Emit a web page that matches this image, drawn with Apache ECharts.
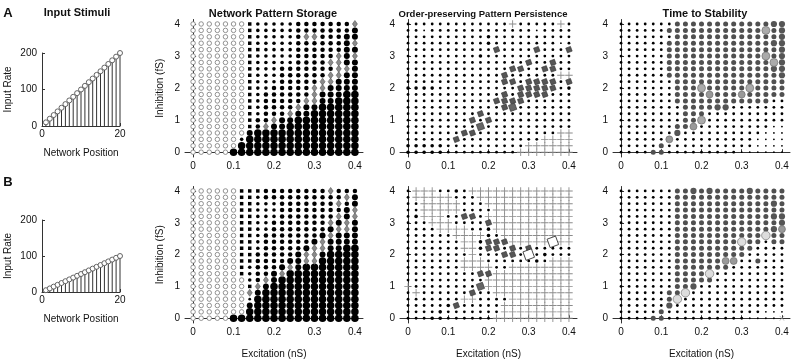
<!DOCTYPE html>
<html>
<head>
<meta charset="utf-8">
<script src="https://cdn.jsdelivr.net/npm/echarts@6/dist/echarts.min.js"></script>
<style>
html, body { margin: 0; padding: 0; background: #fff; }
#main { width: 794px; height: 360px; }
</style>
</head>
<body>
<div id="main"></div>
<script>
// grid values
var excitation = [0, 0.02, 0.04, 0.06, 0.08, 0.1, 0.12, 0.14, 0.16, 0.18, 0.2, 0.22, 0.24, 0.26, 0.28, 0.3, 0.32, 0.34, 0.36, 0.38, 0.4];
var inhibition = [4, 3.8, 3.6, 3.4, 3.2, 3, 2.8, 2.6, 2.4, 2.2, 2, 1.8, 1.6, 1.4, 1.2, 1, 0.8, 0.6, 0.4, 0.2, 0];

// input stimuli
var position = [1, 2, 3, 4, 5, 6, 7, 8, 9, 10, 11, 12, 13, 14, 15, 16, 17, 18, 19, 20];
var rateA = [10, 20, 30, 40, 50, 60, 70, 80, 90, 100, 110, 120, 130, 140, 150, 160, 170, 180, 190, 200];
var rateB = [5, 10, 15, 20, 25, 30, 35, 40, 45, 50, 55, 60, 65, 70, 75, 80, 85, 90, 95, 100];

// one string per inhibition row (4 -> 0), one char per excitation column
var storageA = [
  'ooooooos222223333333d',
  'ooooooos2222233333334',
  'ooooooos222223dd33344',
  'ooooooos222223333334d',
  'oooooooss222233333344',
  'ooooooos2222233333d4d',
  'ooooooos222223333dd44',
  'ooooooos2223333333dd4',
  'ooooooos222333333dd44',
  'ooooooos22233333dd444',
  'ooooooos2233333dd4444',
  'ooooooos2333333d44455',
  'ooooooos233333dd44555',
  'ooooooos23333d4455555',
  'ooooooos2333d44555555',
  'ooooooos33d4455555555',
  'ooooooos3d44555555555',
  'ooooooo45555555555555',
  'oooooo255555555555555',
  'oooooo555555555555555',
  'ooooo5555555555555555'
];
var storageB = [
  'oooooosss33333333d333',
  'ooooooss23333333333d4',
  'ooooooss2223333333d34',
  'ooooooss222333333334d',
  'ooooooss2223333333d4d',
  'ooooooss223333333d4d4',
  'ooooooss2233333334dd4',
  'ooooooss233333334d444',
  'ooooooss23333334d4444',
  'ooooooss2333334dd4455',
  'ooooooss333334dd45555',
  'ooooooss333344dd55555',
  'oooooos23334d45555555',
  'oooooos2334d555555555',
  'ooooooo23d45555555555',
  'ooooooosd455555555555',
  'oooooood4555555555555',
  'ooooooo15555555555555',
  'ooooooo45555555555555',
  'ooooooo55555555555555',
  'ooooo5555555555555555'
];
var orderA = [
  '1111111111111+11111+1',
  '11.1111111111111.1111',
  '111111111121111111111',
  '1111111111211111111.1',
  '11111111111q1111q111q',
  '111111111211111111111',
  '111111111111111q11q11',
  '1111111111111qq11qq11',
  '111111111111q111111++',
  '111111111111qq1qqqq1q',
  '22221111111111qqqqq12',
  '111111111111q1qqqq111',
  '11111111111qqqq111111',
  '111111111111qQ1111111',
  '111111111q11111111111',
  '11111111q1q1111111111',
  '111111111Q11111111111',
  '1111111qq1111111111++',
  '111111q1111111111++++',
  '222221111111111++++++',
  '22222111111111+++++++'
];
var orderB = [
  '1+++1121+++++++++++++',
  '1+++++111++++++++++++',
  '11+++++111+++++++++++',
  '11+++++1111++++++++++',
  '12+++11qq1+++++++++++',
  '111+++1111q++++++++++',
  '1111++++112++++++++++',
  '111111++++21+++++++++',
  '1111111++2qqq+++++W++',
  '1111111++2qq1q1q11111',
  '11111111+111qq1W12111',
  '1111111+++11111121+++',
  '1111111++++11++++++++',
  '111111111qq++++++++++',
  '1111111111+++++++++++',
  '+11111111Q+++++++++++',
  '1+111111q11++++++++++',
  '1111111++1111++++++++',
  '111112q11111+++++++++',
  '111121111111+++++++++',
  '11122111111++++++++++'
];
var timeA = [
  '1111111ggggggggggggGG',
  '111111ggggggggggggLgG',
  '1111111gggggggggggggG',
  '111111gggggggggggggGG',
  '111111ggggggggggggggG',
  '111111ggggggggggggLgG',
  '111111gggggggggggggLG',
  '111111gggggggggggggGG',
  '111111ggggggggggggggG',
  '1111111gggggggggggggg',
  '1111111gggLgggggLgggg',
  '1111111gggglggglggggg',
  '1111111gggggggggggg11',
  '11111111ggggGG1111111',
  '11111111ggg1111111111',
  '11111111ggL1111111111',
  '1111111ggl111111111..',
  '1111111G1111111111...',
  '111111l1111111111....',
  '11111g11111111111....',
  '1111gg111111111......'
];
var timeB = [
  '1111111ggGgGggggGgggg',
  '1111111gggggggggggggg',
  '1111111ggggggggggggGg',
  '1111111gggggggggggggg',
  '1111111ggggggggggggGG',
  '1111111gggggggggggggG',
  '1111111ggggggggggggGl',
  '1111111gggggggggggwgg',
  '1111111ggggggggwgg1gg',
  '1111111gggggggggg1111',
  '1111111ggggggggg11111',
  '1111111ggggggll11g111',
  '1111111ggggggg1111111',
  '1111111ggggw111111111',
  '1111111ggggg111111111',
  '1111111ggG11111111111',
  '111111ggw111111111111',
  '111111gw1111111111111',
  '111111G11111111111111',
  '11111g111111111111...',
  '1111gg1111111111....x'
];

var marks = {
  'o': { symbol: 'circle', size: 4.5, color: '#fff', border: '#777', bw: 0.8 },
  '.': { symbol: 'circle', size: 1.8, color: '#000' },
  '1': { symbol: 'circle', size: 2.8, color: '#000' },
  '2': { symbol: 'circle', size: 3.6, color: '#000' },
  '3': { symbol: 'circle', size: 4.5, color: '#000' },
  '4': { symbol: 'circle', size: 6, color: '#000' },
  '5': { symbol: 'circle', size: 7.5, color: '#000' },
  's': { symbol: 'rect', size: 3.5, color: '#000' },
  'd': { symbol: 'diamond', size: [5, 7], color: '#8a8a8a', border: '#555', bw: 0.6 },
  'q': { symbol: 'rect', size: 5, color: '#555', border: '#333', bw: 0.6, rotate: 20 },
  'Q': { symbol: 'rect', size: 6.5, color: '#666', border: '#333', bw: 0.6, rotate: 20 },
  'W': { symbol: 'rect', size: 9, color: '#fff', border: '#333', bw: 0.8, rotate: 20 },
  '+': { symbol: 'path://M4.4,0H5.6V4.4H10V5.6H5.6V10H4.4V5.6H0V4.4H4.4Z', size: 7.5, color: '#8c8c8c' },
  'x': { symbol: 'path://M0.7,0L5,4.3L9.3,0L10,0.7L5.7,5L10,9.3L9.3,10L5,5.7L0.7,10L0,9.3L4.3,5L0,0.7Z', size: 5, color: '#999' },
  'g': { symbol: 'circle', size: 5, color: '#505050' },
  'G': { symbol: 'circle', size: 6.2, color: '#555' },
  'l': { symbol: 'circle', size: 7, color: '#999', border: '#666', bw: 0.6 },
  'L': { symbol: 'circle', size: 8, color: '#aaa', border: '#666', bw: 0.6 },
  'w': { symbol: 'circle', size: 8.5, color: '#ddd', border: '#777', bw: 0.7 }
};

var font = 'Liberation Sans, Arial, sans-serif';
var axisLine = { show: true, lineStyle: { color: '#333', width: 1 } };
var tick = { show: true, inside: true, length: 3, lineStyle: { color: '#333' } };
var label = { color: '#111', fontSize: 10, fontFamily: font };

var grids = [
  { left: 42, top: 53, width: 78, height: 73 },
  { left: 185, top: 19.5, width: 178, height: 137.5 },
  { left: 400, top: 19.5, width: 177, height: 137.5 },
  { left: 613, top: 19.5, width: 177, height: 137.5 },
  { left: 42, top: 220, width: 78, height: 72 },
  { left: 185, top: 186.5, width: 178, height: 140.5 },
  { left: 400, top: 186.5, width: 177, height: 140.5 },
  { left: 613, top: 186.5, width: 177, height: 140.5 }
];

var xAxes = [], yAxes = [];
grids.forEach(function (g, i) {
  var col = i % 4, row = i < 4 ? 0 : 1;
  if (col === 0) {
    xAxes.push({ gridIndex: i, type: 'value', min: 0, max: 20, interval: 20,
      axisLine: axisLine, axisTick: tick, splitLine: { show: false },
      axisLabel: Object.assign({ margin: 3 }, label),
      name: 'Network Position', nameLocation: 'middle', nameGap: 22,
      nameTextStyle: { color: '#111', fontSize: 10, fontFamily: font } });
    yAxes.push({ gridIndex: i, type: 'value', min: 0, max: 200, interval: 100,
      axisLine: axisLine, axisTick: tick, splitLine: { show: false },
      axisLabel: Object.assign({ margin: 5 }, label),
      name: 'Input Rate', nameLocation: 'middle', nameGap: 29,
      nameTextStyle: { color: '#111', fontSize: 10, fontFamily: font } });
  } else {
    xAxes.push({ gridIndex: i, type: 'value', min: -0.02, max: 0.42,
      axisLine: axisLine, splitLine: { show: false },
      axisTick: Object.assign({ customValues: [0, 0.1, 0.2, 0.3, 0.4] }, tick),
      axisLabel: Object.assign({ margin: 4, customValues: [0, 0.1, 0.2, 0.3, 0.4] }, label),
      name: row === 1 ? 'Excitation (nS)' : '', nameLocation: 'middle', nameGap: 26,
      nameTextStyle: { color: '#111', fontSize: 10, fontFamily: font } });
    yAxes.push({ gridIndex: i, type: 'value', min: -0.15, max: 4.14,
      axisLine: axisLine, splitLine: { show: false },
      axisTick: Object.assign({ customValues: [0, 1, 2, 3, 4] }, tick),
      axisLabel: Object.assign({ margin: 5, customValues: [0, 1, 2, 3, 4] }, label),
      name: col === 1 ? 'Inhibition (fS)' : '', nameLocation: 'middle', nameGap: 20,
      nameTextStyle: { color: '#111', fontSize: 10, fontFamily: font } });
  }
});

var series = [];

function stems(idx, values) {
  var pts = position.map(function (p, k) { return [p, values[k]]; });
  series.push({ type: 'bar', xAxisIndex: idx, yAxisIndex: idx, data: pts,
    barWidth: 1, itemStyle: { color: '#333' }, silent: true });
  series.push({ type: 'scatter', xAxisIndex: idx, yAxisIndex: idx, data: pts,
    symbol: 'circle', symbolSize: 5,
    itemStyle: { color: '#fff', borderColor: '#555', borderWidth: 0.9, opacity: 1 } });
}

function field(idx, rows) {
  var groups = {};
  rows.forEach(function (r, i) {
    for (var j = 0; j < r.length; j++) {
      var c = r.charAt(j);
      (groups[c] = groups[c] || []).push([excitation[j], inhibition[i]]);
    }
  });
  Object.keys(groups).forEach(function (c) {
    var m = marks[c];
    series.push({ type: 'scatter', xAxisIndex: idx, yAxisIndex: idx, data: groups[c],
      symbol: m.symbol, symbolSize: m.size, symbolRotate: m.rotate || 0,
      itemStyle: { color: m.color, borderColor: m.border || m.color,
        borderWidth: m.bw || 0, opacity: 1 } });
  });
}

stems(0, rateA);
field(1, storageA);
field(2, orderA);
field(3, timeA);
stems(4, rateB);
field(5, storageB);
field(6, orderB);
field(7, timeB);

function txt(x, y, s, size, weight) {
  return { type: 'text', x: x, y: y,
    style: { text: s, fill: '#111', font: weight + ' ' + size + 'px ' + font,
      textAlign: 'center', textVerticalAlign: 'middle' } };
}

var chart = echarts.init(document.getElementById('main'));
chart.setOption({
  animation: false,
  grid: grids,
  xAxis: xAxes,
  yAxis: yAxes,
  series: series,
  graphic: [
    txt(8, 13, 'A', 13, 'bold'),
    txt(8, 182, 'B', 13, 'bold'),
    txt(77, 13, 'Input Stimuli', 11, 'bold'),
    txt(273, 14, 'Network Pattern Storage', 11, 'bold'),
    txt(483, 14, 'Order-preserving Pattern Persistence', 9.5, 'bold'),
    txt(705, 14, 'Time to Stability', 11, 'bold')
  ]
});
</script>
</body>
</html>
